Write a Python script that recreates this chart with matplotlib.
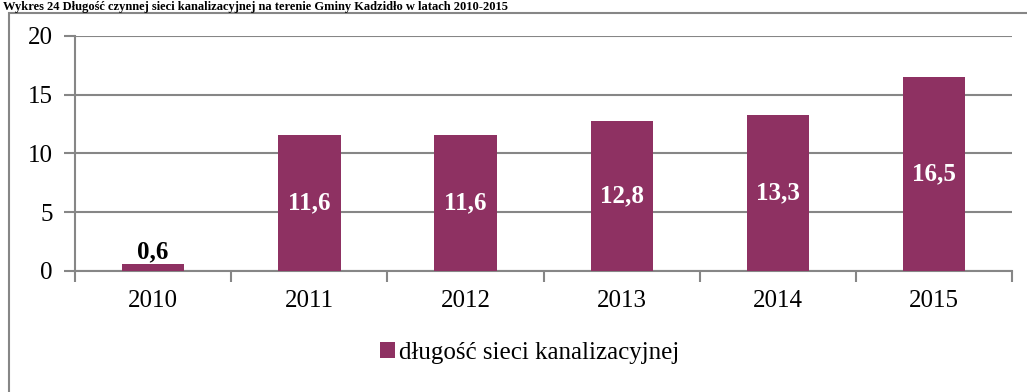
import matplotlib.pyplot as plt
from matplotlib.patches import Rectangle

plt.rcParams['font.family'] = ['Liberation Serif', 'DejaVu Serif']

years = ["2010", "2011", "2012", "2013", "2014", "2015"]
lengths = [0.6, 11.6, 11.6, 12.8, 13.3, 16.5]
series_name = "długość sieci kanalizacyjnej"
title = "Wykres 24 Długość czynnej sieci kanalizacyjnej na terenie Gminy Kadzidło w latach 2010-2015"

bar_color = "#8E3162"
grid_color = "#868686"
fs = 18

fig = plt.figure(figsize=(10.27, 3.92), dpi=100)
ax = fig.add_axes([0.073, 0.3087, 0.9127, 0.5995])

x = list(range(len(years)))
bars = ax.bar(x, lengths, width=0.4, color=bar_color, label=series_name, zorder=3)

ax.set_xlim(-0.5, len(years) - 0.5)
ax.set_ylim(0, 20)
ax.set_yticks([0, 5, 10, 15, 20])
ax.grid(axis="y", color=grid_color, linewidth=1.5, zorder=1)

# ticks sit between the categories, labels under each bar
ax.set_xticks([i - 0.5 for i in range(len(years) + 1)])
ax.set_xticklabels([])
ax.set_xticks(x, minor=True)
ax.set_xticklabels(years, minor=True)
ax.tick_params(axis="x", which="major", length=8, width=1.5, color=grid_color)
ax.tick_params(axis="x", which="minor", length=0, pad=14, labelsize=fs)
ax.tick_params(axis="y", length=8, width=1.5, color=grid_color, pad=8, labelsize=fs)

for side in ("top", "right"):
    ax.spines[side].set_visible(False)
for side in ("left", "bottom"):
    ax.spines[side].set_color(grid_color)
    ax.spines[side].set_linewidth(1.5)

for rect, val in zip(bars, lengths):
    txt = f"{val:.1f}".replace(".", ",")
    cx = rect.get_x() + rect.get_width() / 2
    if val < 2:
        ax.text(cx, val + 0.05, txt, ha="center", va="bottom", fontsize=fs,
                fontweight="bold", color="black", zorder=4)
    else:
        ax.text(cx, val / 2, txt, ha="center", va="center", fontsize=fs,
                fontweight="bold", color="white", zorder=4)

fig.legend(handles=[bars], labels=[series_name], loc="center",
           bbox_to_anchor=(0.516, 0.10), frameon=False, fontsize=fs,
           handlelength=0.6, handleheight=0.6, handletextpad=0.15)

# outer chart frame, runs off the right and bottom edges
fig.patches.append(Rectangle((9 / 1027, -0.1), 1.2, 1.1 - 13 / 392,
                             transform=fig.transFigure, fill=False,
                             edgecolor=grid_color, linewidth=1.5))

fig.text(0.003, 1 - 1 / 392, title, ha="left", va="top", fontsize=9,
         fontweight="bold")

fig.savefig("out.png", dpi=100)
